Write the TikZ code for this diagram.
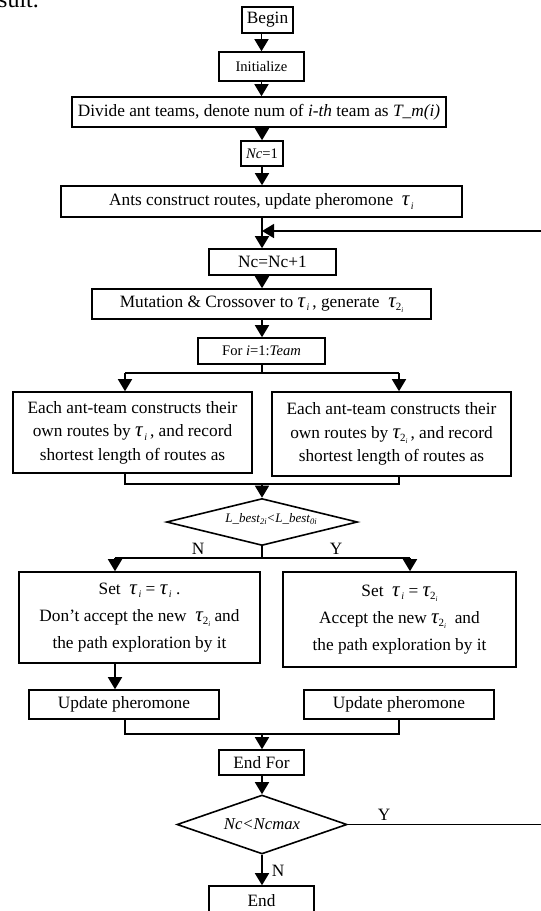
\documentclass[tikz,border=0pt]{standalone}
\usepackage{fontspec}
\setmainfont{Liberation Serif}
\usetikzlibrary{arrows.meta,shapes.geometric}
\newcommand{\bigtau}{{\fontsize{21}{21}\selectfont\itshape τ}}
\newcommand{\taui}{\bigtau\raisebox{-0.45ex}{\fontsize{10}{10}\selectfont\itshape\,i}}
\newcommand{\tautwo}{\bigtau\raisebox{-0.45ex}{\fontsize{11}{11}\selectfont 2\raisebox{-0.35ex}{\fontsize{7}{7}\selectfont\itshape i}}}
\begin{document}
\begin{tikzpicture}[x=1pt,y=-1pt,
  box/.style={draw,line width=1.6pt,inner sep=0pt,align=center,font=\fontsize{17.3}{23.5}\selectfont},
  sbox/.style={box,font=\fontsize{14.6}{18}\selectfont},
  dia/.style={draw,line width=1.6pt,diamond,inner sep=0pt,aspect=3.2},
  conn/.style={line width=1.6pt},
  arr/.style={conn,-{Triangle[length=12pt,width=14pt]}},
  lbl/.style={font=\fontsize{17.3}{20}\selectfont,inner sep=0pt}]
\useasboundingbox (0,0) rectangle (541,911);
\node[anchor=base west,inner sep=0pt,font=\fontsize{24}{24}\selectfont] (sult) at (-2,7) {sult.};

\node[box,minimum width=51pt,minimum height=26pt] (begin) at (267.5,20) {Begin};
\node[sbox,minimum width=85pt,minimum height=29pt] (init) at (261.5,66.5) {Initialize};
\node[box,minimum width=374pt,minimum height=30pt] (divide) at (259,112) {Divide ant teams, denote num of \textit{i-th} team as \textit{T\_m(i)}};
\node[sbox,minimum width=42pt,minimum height=25pt] (nc1) at (262,153.5) {\textit{Nc}=1};
\node[box,minimum width=401pt,minimum height=31pt] (ants) at (261.5,201.5) {Ants construct routes, update pheromone \ \taui};
\node[box,minimum width=127pt,minimum height=26pt] (ncinc) at (272.5,262) {Nc=Nc+1};
\node[box,minimum width=339pt,minimum height=30pt] (mut) at (261.5,304) {Mutation \& Crossover to \taui\,, generate \ \tautwo};
\node[sbox,minimum width=127pt,minimum height=26pt] (for) at (261.5,351) {For \textit{i}=1:\textit{Team}};
\node[box,minimum width=239pt,minimum height=81pt] (left) at (132.5,432.5) {Each ant-team constructs their\\own routes by \taui\,, and record\\shortest length of routes as};
\node[box,minimum width=239pt,minimum height=84pt] (right) at (391.5,434) {Each ant-team constructs their\\own routes by \tautwo\,, and record\\shortest length of routes as};
\node[dia,minimum width=191pt,minimum height=47pt] (d1) at (262,522) {};
\node[font=\fontsize{13}{13}\selectfont\itshape,inner sep=0pt] (d1t) at (271,519) {L\_best\raisebox{-0.4ex}{\fontsize{8.5}{8.5}\selectfont 2\textit{i}}<L\_best\raisebox{-0.4ex}{\fontsize{8.5}{8.5}\selectfont 0\textit{i}}};
\node[box,minimum width=241pt,minimum height=91pt,font=\fontsize{17.3}{27}\selectfont] (setL) at (139.5,617.5) {Set \ \taui\ = \taui\ .\\Don't accept the new \ \tautwo\ and\\the path exploration by it};
\node[box,minimum width=233pt,minimum height=95pt,font=\fontsize{17.3}{27}\selectfont] (setR) at (399.5,619.5) {Set \ \taui\ = \tautwo\\Accept the new \tautwo\ \ and\\the path exploration by it};
\node[box,minimum width=190pt,minimum height=29pt] (updL) at (124,704.5) {Update pheromone};
\node[box,minimum width=190pt,minimum height=29pt] (updR) at (399,704.5) {Update pheromone};
\node[box,minimum width=85pt,minimum height=25pt] (endfor) at (261.5,762.5) {End For};
\node[dia,minimum width=170pt,minimum height=59pt,aspect=2.9,font=\fontsize{16.7}{20}\selectfont\itshape] (d2) at (262,824.5) {Nc<Ncmax};
\node[box,minimum width=105pt,minimum height=30pt] (end) at (261.5,901) {End};

\coordinate (fb) at (262,231);
\coordinate (fbr) at (545,231);
\coordinate (yr) at (545,824.5);
\coordinate (s1) at (262,373);
\coordinate (s1l) at (125,373);
\coordinate (s1r) at (399,373);
\coordinate (m1) at (262,484);
\coordinate (m1l) at (125,484);
\coordinate (m1r) at (399,484);
\coordinate (s2) at (262,558);
\coordinate (s2l) at (115,558);
\coordinate (s2r) at (410,558);
\coordinate (m2) at (262,734);
\coordinate (m2l) at (125,734);
\coordinate (m2r) at (399,734);

\draw[arr] (init.north |- begin.south) -- (init.north);
\draw[arr] (init.south) -- (init.south |- divide.north);
\draw[arr] (nc1.north |- divide.south) -- (nc1.north);
\draw[arr] (nc1.south) -- (nc1.south |- ants.north);
\draw[arr] (nc1.south |- ants.south) -- (nc1.south |- ncinc.north);
\draw[arr] (d2.east) -- (yr) -- (fbr) -- (fb);
\draw[arr] (nc1.south |- ncinc.south) -- (nc1.south |- mut.north);
\draw[arr] (nc1.south |- mut.south) -- (nc1.south |- for.north);
\draw[conn] (nc1.south |- for.south) -- (s1);
\draw[conn] (s1l) -- (s1r);
\draw[arr] (s1l) -- (s1l |- left.north);
\draw[arr] (s1r) -- (s1r |- right.north);
\draw[conn] (s1l |- left.south) -- (m1l) -- (m1r) -- (s1r |- right.south);
\draw[arr] (m1) -- (d1.north);
\draw[conn] (d1.south) -- (s2);
\draw[conn] (s2l) -- (s2r);
\draw[arr] (s2l) -- (s2l |- setL.north);
\draw[arr] (s2r) -- (s2r |- setR.north);
\draw[arr] (s2l |- setL.south) -- (s2l |- updL.north);
\draw[conn] (m2l |- updL.south) -- (m2l) -- (m2r) -- (m2r |- updR.south);
\draw[arr] (m2) -- (m2 |- endfor.north);
\draw[arr] (m2 |- endfor.south) -- (d2.north);
\draw[arr] (d2.south) -- (d2.south |- end.north);

\node[lbl] (lN1) at (198,549) {N};
\node[lbl] (lY1) at (336,549) {Y};
\node[lbl] (lY2) at (384,815) {Y};
\node[lbl] (lN2) at (278,871) {N};
\end{tikzpicture}
\end{document}
